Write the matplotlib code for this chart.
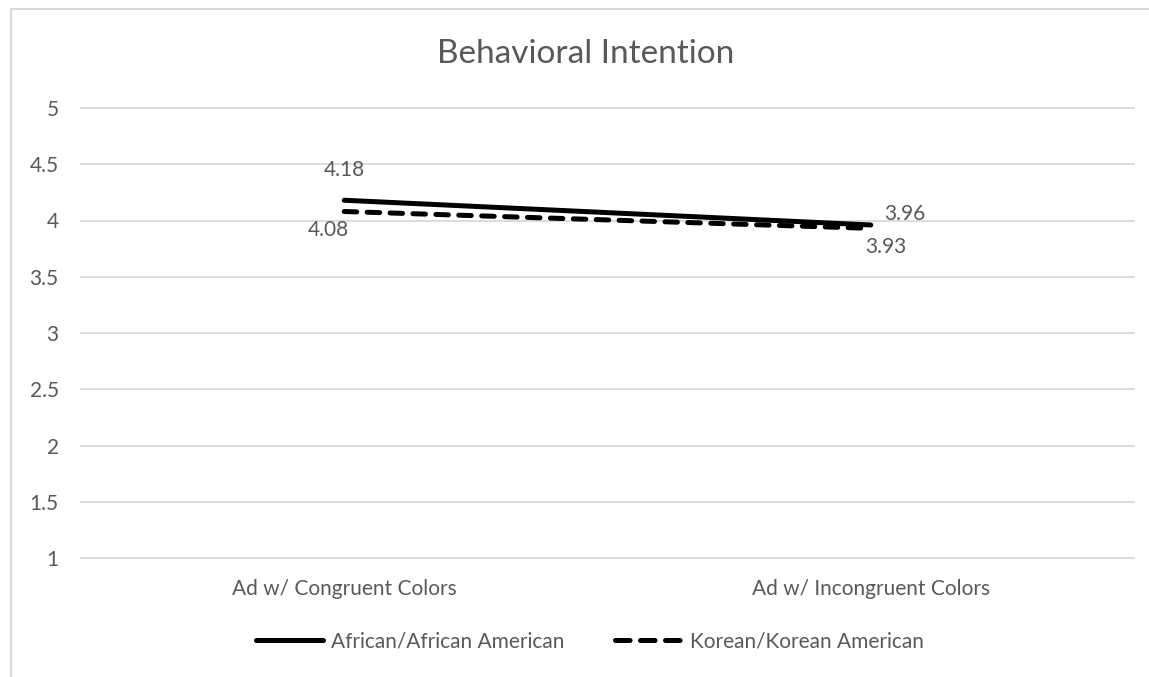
import matplotlib
matplotlib.use("Agg")
import matplotlib.pyplot as plt
from matplotlib.lines import Line2D
from matplotlib.patches import Rectangle

# Mean behavioral intention per ad condition
categories = ["Ad w/ Congruent Colors", "Ad w/ Incongruent Colors"]
african = [4.18, 3.96]
korean = [4.08, 3.93]
series_names = ["African/African American", "Korean/Korean American"]
yticks = [1, 1.5, 2, 2.5, 3, 3.5, 4, 4.5, 5]

plt.rcParams["font.family"] = ["Lato", "DejaVu Sans"]
plt.rcParams["lines.scale_dashes"] = False
text_col = "#595959"
grid_col = "#d9d9d9"
fs = 15

fig = plt.figure(figsize=(11.49, 6.77), dpi=100)

# chart frame (cut off on the right and bottom)
fig.patches.append(Rectangle((11 / 1149, -0.05), 1.2, 1 - 9 / 677 + 0.05,
                             transform=fig.transFigure, fill=False,
                             edgecolor=grid_col, linewidth=1.5))

ax = fig.add_axes([81 / 1149, 119 / 677, (1134 - 81) / 1149, 450 / 677])
x = list(range(len(categories)))

ax.plot(x, african, color="black", linewidth=3.6, solid_capstyle="round",
        zorder=3)
ax.plot(x, korean, color="black", linewidth=3.6, dashes=(9, 7.5),
        dash_capstyle="round", zorder=3)

# value labels, offsets in pixels from the point
px = 0.72
label_offsets = {
    (0, african[0]): (0, 30),
    (1, african[1]): (34, 11),
    (0, korean[0]): (-16, -18.5),
    (1, korean[1]): (15, -19),
}
for xi, vals in zip(x, zip(african, korean)):
    for v in vals:
        dx, dy = label_offsets[(xi, v)]
        ax.annotate(f"{v:.2f}", (xi, v), xytext=(dx * px, dy * px),
                    textcoords="offset points", ha="center", va="center",
                    fontsize=fs, color=text_col)

ax.set_xlim(-0.5, 1.5)
ax.set_ylim(1, 5)
ax.set_yticks(yticks)
ax.set_yticklabels([f"{t:g}" for t in yticks])
ax.set_xticks(x)
ax.set_xticklabels(categories)
ax.tick_params(axis="both", length=0, labelsize=fs, colors=text_col)
ax.tick_params(axis="y", pad=16)
ax.tick_params(axis="x", pad=15)
ax.grid(axis="y", color=grid_col, linewidth=1.3)
for gl in ax.yaxis.get_gridlines():
    gl.set_clip_on(False)
for s in ax.spines.values():
    s.set_visible(False)

fig.text(586 / 1149, 1 - 63 / 677, "Behavioral Intention", ha="center",
         va="baseline", fontsize=24, color=text_col)

# legend keys: longer dashes so three fit in the key
handles = [
    Line2D([], [], color="black", linewidth=3.6, solid_capstyle="round"),
    Line2D([], [], color="black", linewidth=3.6, dashes=(10.5, 7.5),
           dash_capstyle="round"),
]
fig.legend(handles, series_names, loc="center",
           bbox_to_anchor=(590 / 1149, 1 - 641 / 677), ncol=2,
           frameon=False, fontsize=fs, labelcolor=text_col,
           handlelength=3.2, handletextpad=0.4, columnspacing=2.4)

fig.savefig("out.png", dpi=100, facecolor="white")
